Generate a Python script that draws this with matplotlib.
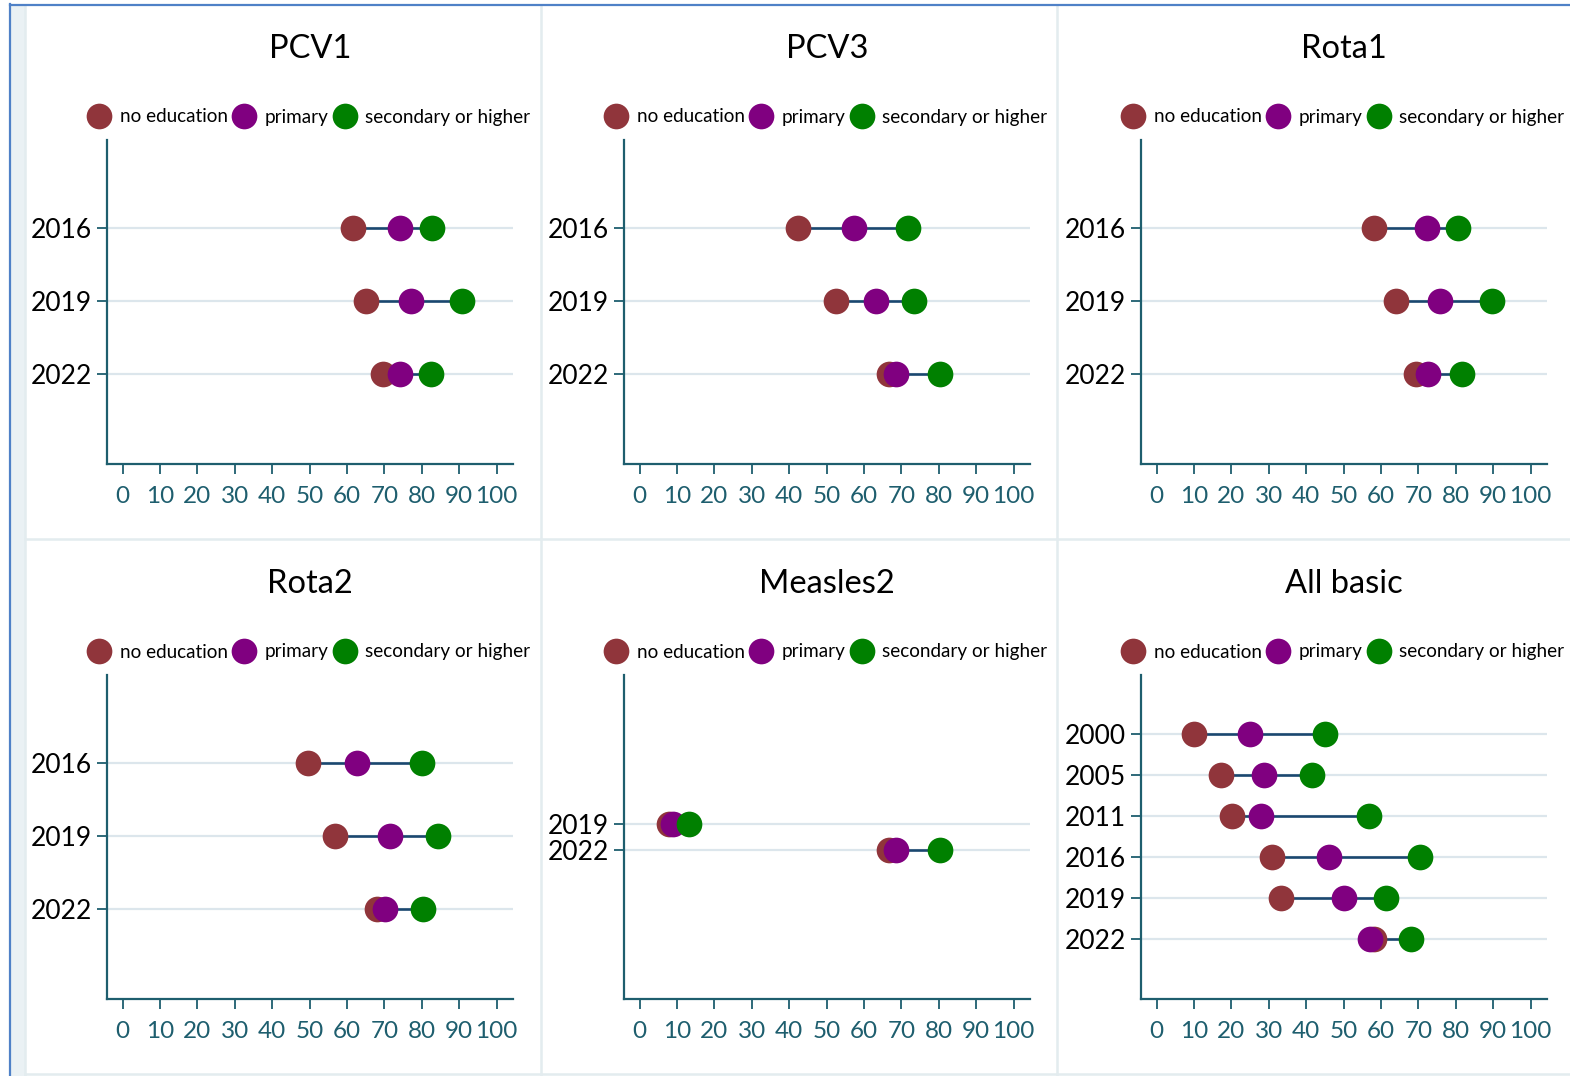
import matplotlib
matplotlib.use("Agg")
import matplotlib.pyplot as plt
from matplotlib.lines import Line2D
from matplotlib.patches import Rectangle

plt.rcParams['font.family'] = ['Lato', 'DejaVu Sans']

# ---------------- data ----------------
panel_titles = ["PCV1", "PCV3", "Rota1", "Rota2", "Measles2", "All basic"]
group_labels = ["no education", "primary", "secondary or higher"]

pcv1_years = ["2016", "2019", "2022"]
pcv1_none = [61.7, 65.1, 69.6]
pcv1_primary = [74.1, 77.0, 74.2]
pcv1_secondary = [82.8, 90.8, 82.5]

pcv3_years = ["2016", "2019", "2022"]
pcv3_none = [42.3, 52.6, 66.6]
pcv3_primary = [57.2, 63.1, 68.6]
pcv3_secondary = [71.8, 73.4, 80.3]

rota1_years = ["2016", "2019", "2022"]
rota1_none = [58.1, 63.9, 69.3]
rota1_primary = [72.2, 75.9, 72.6]
rota1_secondary = [80.6, 89.8, 81.6]

rota2_years = ["2016", "2019", "2022"]
rota2_none = [49.6, 56.8, 68.1]
rota2_primary = [62.6, 71.6, 70.2]
rota2_secondary = [80.1, 84.4, 80.3]

measles2_years = ["2019", "2022"]
measles2_none = [7.8, 66.7]
measles2_primary = [8.8, 68.5]
measles2_secondary = [13.2, 80.3]

allbasic_years = ["2000", "2005", "2011", "2016", "2019", "2022"]
allbasic_none = [10.1, 17.1, 20.1, 30.8, 33.2, 58.0]
allbasic_primary = [24.9, 28.6, 28.0, 46.1, 50.1, 57.0]
allbasic_secondary = [44.9, 41.5, 56.9, 70.4, 61.4, 67.9]

panels = [
    (pcv1_years, pcv1_none, pcv1_primary, pcv1_secondary),
    (pcv3_years, pcv3_none, pcv3_primary, pcv3_secondary),
    (rota1_years, rota1_none, rota1_primary, rota1_secondary),
    (rota2_years, rota2_none, rota2_primary, rota2_secondary),
    (measles2_years, measles2_none, measles2_primary, measles2_secondary),
    (allbasic_years, allbasic_none, allbasic_primary, allbasic_secondary),
]

x_ticks = list(range(0, 101, 10))

# ---------------- style ----------------
W, H = 1570, 1076
c_none = "#90353B"
c_prim = "#800080"
c_sec = "#008000"
c_line = "#1A476F"
c_axis = "#1E5E6E"
c_grid = "#DCE6EC"
msize = 18.5

fig = plt.figure(figsize=(W / 100, H / 100), dpi=100)
fig.patch.set_facecolor("white")

# page decorations: left strip, blue border, panel separators (behind axes)
fig.add_artist(Rectangle((11 / W, 0), 14 / W, 1 - 5 / H, transform=fig.transFigure,
                         facecolor="#EAF1F4", edgecolor="none", zorder=-3))
sep = "#E3ECEF"
for xs in (25, 541, 1057):
    fig.add_artist(Line2D([xs / W, xs / W], [0, 1 - 5 / H], transform=fig.transFigure,
                          color=sep, lw=1.8, zorder=-2))
for ys in (539, 1074):
    fig.add_artist(Line2D([25 / W, 1], [1 - ys / H, 1 - ys / H], transform=fig.transFigure,
                          color=sep, lw=1.8, zorder=-2))
fig.add_artist(Line2D([10 / W, 10 / W], [0, 1 - 4 / H], transform=fig.transFigure,
                      color="#4F81C7", lw=1.6, zorder=-1))
fig.add_artist(Line2D([10 / W, 1], [1 - 4.5 / H, 1 - 4.5 / H], transform=fig.transFigure,
                      color="#4F81C7", lw=1.6, zorder=-1))

col_left = [107, 624, 1141]
row_bottom = [464, 999]
ax_w, ax_h = 406, 324
# y-limits (top offset, bottom offset) per panel
ylims = [(-1.21, 3.23), (-1.21, 3.23), (-1.21, 3.23), (-1.21, 3.23), (-5.67, 6.65), (-1.45, 6.46)]

for i, (years, v_none, v_prim, v_sec) in enumerate(panels):
    r, c = divmod(i, 3)
    ax = fig.add_axes([col_left[c] / W, 1 - row_bottom[r] / H, ax_w / W, ax_h / H])
    ypos = list(range(len(years)))
    lo = [min(a, b, d) for a, b, d in zip(v_none, v_prim, v_sec)]
    hi = [max(a, b, d) for a, b, d in zip(v_none, v_prim, v_sec)]
    ax.hlines(ypos, lo, hi, color=c_line, lw=1.9, zorder=3)
    h1, = ax.plot(v_none, ypos, "o", color=c_none, ms=msize, mew=0, zorder=4, clip_on=False,
                  label=group_labels[0])
    h2, = ax.plot(v_prim, ypos, "o", color=c_prim, ms=msize, mew=0, zorder=5, clip_on=False,
                  label=group_labels[1])
    h3, = ax.plot(v_sec, ypos, "o", color=c_sec, ms=msize, mew=0, zorder=6, clip_on=False,
                  label=group_labels[2])

    ax.set_xlim(-4.2, 104.4)
    ax.set_ylim(ylims[i][1], ylims[i][0])
    ax.set_xticks(x_ticks)
    ax.set_xticklabels([str(t) for t in x_ticks])
    ax.set_yticks(ypos)
    ax.set_yticklabels(years)

    for s in ("top", "right"):
        ax.spines[s].set_visible(False)
    for s in ("left", "bottom"):
        ax.spines[s].set_color(c_axis)
        ax.spines[s].set_linewidth(1.6)
    ax.tick_params(axis="x", colors=c_axis, labelsize=17.5, length=7, width=1.3, pad=9)
    ax.tick_params(axis="y", color=c_axis, labelcolor="black", labelsize=19, length=7,
                   width=1.3, pad=4)
    ax.grid(axis="y", color=c_grid, lw=1.6, zorder=0)
    ax.set_axisbelow(True)
    ax.set_facecolor("none")

    ax.text(0.5, 1 + 91 / ax_h, panel_titles[i], transform=ax.transAxes, ha="center",
            va="center", fontsize=23.5, color="black")
    ax.legend(handles=[h1, h2, h3], loc="center", bbox_to_anchor=(0.5, 1 + 23 / ax_h),
              ncol=3, frameon=False, fontsize=13.6, handlelength=1.0, handletextpad=0.6,
              columnspacing=0.35, borderaxespad=0, borderpad=0, markerscale=1.0)

fig.savefig("out.png", dpi=100, facecolor="white")
